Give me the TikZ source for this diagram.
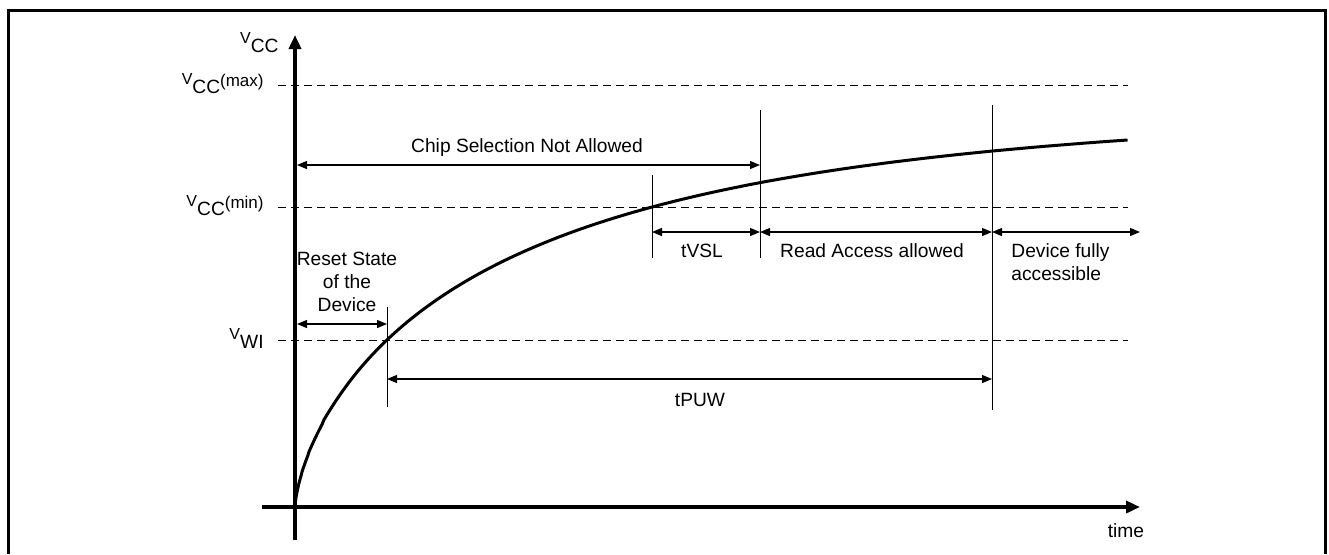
\documentclass[tikz,border=0pt]{standalone}
\usepackage{fontspec}
\setmainfont{Liberation Sans}
\usetikzlibrary{arrows.meta}

\newcommand{\volt}[2]{\raisebox{4.2pt}{\fontsize{8}{9}\selectfont V}#1\raisebox{3.4pt}{\fontsize{8.5}{9}\selectfont #2}}

\begin{document}
\begin{tikzpicture}[x=0.5pt,y=-0.5pt,
    font=\fontsize{9.6}{11.5}\selectfont,
    axis/.style={line width=1.8pt,-{Triangle[length=7pt,width=6pt]}},
    guide/.style={line width=0.5pt,dash pattern=on 4pt off 2.5pt},
    tickline/.style={line width=0.5pt},
    span/.style={line width=0.6pt,{Triangle[length=5pt,width=4pt]}-{Triangle[length=5pt,width=4pt]}},
    curve/.style={line width=1.5pt}]

  \useasboundingbox (0,0) rectangle (1329,554);
  \draw[line width=1.5pt] (8,554) -- (8,10) -- (1325,10) -- (1325,554);

  % guide levels
  \coordinate (max-l) at (278,85);  \coordinate (max-r) at (1128,85);
  \coordinate (min-l) at (278,207); \coordinate (min-r) at (1128,207);
  \coordinate (wi-l)  at (278,340); \coordinate (wi-r)  at (1128,340);
  \draw[guide] (max-l) -- (max-r);
  \draw[guide] (min-l) -- (min-r);
  \draw[guide] (wi-l) -- (wi-r);

  \begin{scope}[every node/.style={anchor=base east,inner sep=0pt}]
    \node (vcc)  at (279,52)  {\volt{CC}{}};
    \node (vmax) at (264,93)  {\volt{CC}{(max)}};
    \node (vmin) at (264,215) {\volt{CC}{(min)}};
    \node (vwi)  at (264,348) {\volt{WI}{}};
  \end{scope}

  % axes
  \coordinate (ybot) at (295,540); \coordinate (ytop) at (295,35);
  \coordinate (xl) at (262,507);   \coordinate (xr) at (1140,507);
  \draw[axis] (ybot) -- (ytop);
  \draw[axis] (xl) -- (xr);
  \node[inner sep=0pt] (time) at (1126,531) {time};

  % supply ramp
  \coordinate (O) at (295,507);
  \draw[curve] (O) -- plot[domain=0.005:1,samples=160]
    ({295+833*\x*\x},{507-400*(1-exp(-(833*\x*\x/223)^0.694))});

  % ticks
  \coordinate (ta1) at (387,307); \coordinate (ta2) at (387,407);
  \coordinate (tb1) at (652,175); \coordinate (tb2) at (652,258);
  \coordinate (tc1) at (760,110); \coordinate (tc2) at (760,258);
  \coordinate (td1) at (992,105); \coordinate (td2) at (992,410);
  \draw[tickline] (ta1) -- (ta2);
  \draw[tickline] (tb1) -- (tb2);
  \draw[tickline] (tc1) -- (tc2);
  \draw[tickline] (td1) -- (td2);

  % spans
  \coordinate (chip-l) at (297,165); \coordinate (chip-r) at (760,165);
  \coordinate (rst-l)  at (297,324); \coordinate (rst-r)  at (387,324);
  \coordinate (puw-l)  at (387,379); \coordinate (puw-r)  at (992,379);
  \coordinate (vsl-l)  at (652,232); \coordinate (vsl-r)  at (760,232);
  \coordinate (rd-r)   at (992,232); \coordinate (full-r) at (1140,232);
  \draw[span] (chip-l) -- (chip-r);
  \draw[span] (rst-l) -- (rst-r);
  \draw[span] (puw-l) -- (puw-r);
  \draw[span] (vsl-l) -- (vsl-r);
  \draw[span] (vsl-r) -- (rd-r);
  \draw[span] (rd-r) -- (full-r);

  \begin{scope}[every node/.style={inner sep=0pt}]
    \node (chip) at (527,148) {Chip Selection Not Allowed};
    \node[align=center] (reset) at (347,282) {Reset State\\of the\\Device};
    \node (puw)  at (700,400) {tPUW};
    \node (vsl)  at (702,251) {tVSL};
    \node (read) at (872,251) {Read Access allowed};
    \node[anchor=west,align=left] (full) at (1011,262) {Device fully\\accessible};
  \end{scope}

\end{tikzpicture}
\end{document}
